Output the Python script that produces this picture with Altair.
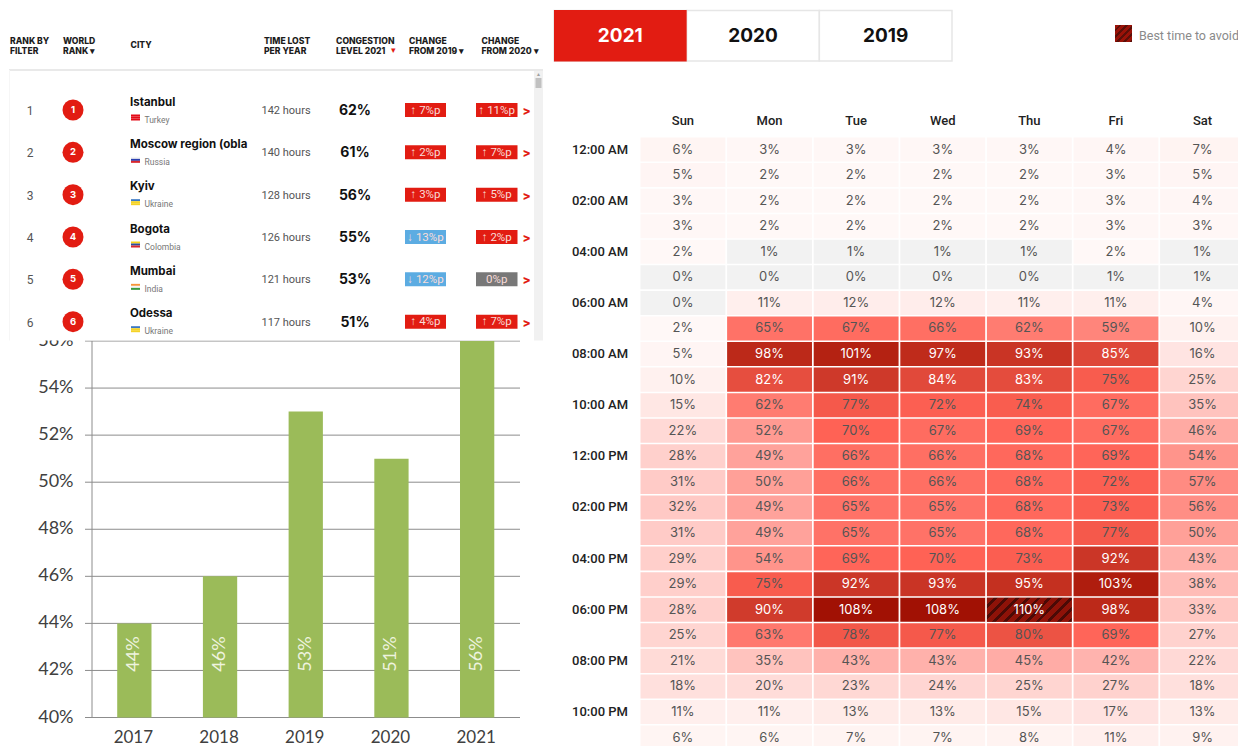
import altair as alt
import pandas as pd

# ---- data ----
years = ["2017", "2018", "2019", "2020", "2021"]
level = [44, 46, 53, 51, 56]
y_ticks = [40, 42, 44, 46, 48, 50, 52, 54, 56]

ranks = [1, 2, 3, 4, 5, 6]
cities = ["Istanbul", "Moscow region (obla", "Kyiv", "Bogota", "Mumbai", "Odessa"]
countries = ["Turkey", "Russia", "Ukraine", "Colombia", "India", "Ukraine"]
hours_lost = ["142 hours", "140 hours", "128 hours", "126 hours", "121 hours", "117 hours"]
congestion = ["62%", "61%", "56%", "55%", "53%", "51%"]
chg19 = ["↑ 7%p", "↑ 2%p", "↑ 3%p", "↓ 13%p", "↓ 12%p", "↑ 4%p"]
chg20 = ["↑ 11%p", "↑ 7%p", "↑ 5%p", "↑ 2%p", "0%p", "↑ 7%p"]
flag_top = ["#e30a17", "#f4f4f4", "#3b78c4", "#f7d116", "#f7953a", "#3b78c4"]
flag_mid = ["#e30a17", "#2a3fb0", "#f5d327", "#2a4fa0", "#f4f4f4", "#f5d327"]
flag_bot = ["#e30a17", "#d8262c", "#f5d327", "#d8262c", "#3a9a40", "#f5d327"]

days = ["Sun", "Mon", "Tue", "Wed", "Thu", "Fri", "Sat"]
hours = ["12:00 AM", "01:00 AM", "02:00 AM", "03:00 AM", "04:00 AM", "05:00 AM",
         "06:00 AM", "07:00 AM", "08:00 AM", "09:00 AM", "10:00 AM", "11:00 AM",
         "12:00 PM", "01:00 PM", "02:00 PM", "03:00 PM", "04:00 PM", "05:00 PM",
         "06:00 PM", "07:00 PM", "08:00 PM", "09:00 PM", "10:00 PM", "11:00 PM"]
heat = [
    [6, 3, 3, 3, 3, 4, 7],
    [5, 2, 2, 2, 2, 3, 5],
    [3, 2, 2, 2, 2, 3, 4],
    [3, 2, 2, 2, 2, 3, 3],
    [2, 1, 1, 1, 1, 2, 1],
    [0, 0, 0, 0, 0, 1, 1],
    [0, 11, 12, 12, 11, 11, 4],
    [2, 65, 67, 66, 62, 59, 10],
    [5, 98, 101, 97, 93, 85, 16],
    [10, 82, 91, 84, 83, 75, 25],
    [15, 62, 77, 72, 74, 67, 35],
    [22, 52, 70, 67, 69, 67, 46],
    [28, 49, 66, 66, 68, 69, 54],
    [31, 50, 66, 66, 68, 72, 57],
    [32, 49, 65, 65, 68, 73, 56],
    [31, 49, 65, 65, 68, 77, 50],
    [29, 54, 69, 70, 73, 92, 43],
    [29, 75, 92, 93, 95, 103, 38],
    [28, 90, 108, 108, 110, 98, 33],
    [25, 63, 78, 77, 80, 69, 27],
    [21, 35, 43, 43, 45, 42, 22],
    [18, 20, 23, 24, 25, 27, 18],
    [11, 11, 13, 13, 15, 17, 13],
    [6, 6, 7, 7, 8, 11, 9],
]
buttons = ["2021", "2020", "2019"]

# ---- layout helpers: page coordinates minus the 8px page margin ----
def px(v):
    return v - 8

def stripes(periods, c1, c2, share, x2, y2):
    stops = []
    for i in range(periods):
        a, m, b = i / periods, (i + share) / periods, (i + 1) / periods
        stops += [alt.GradientStop(color=c1, offset=a), alt.GradientStop(color=c1, offset=m),
                  alt.GradientStop(color=c2, offset=m), alt.GradientStop(color=c2, offset=b)]
    return alt.LinearGradient(gradient="linear", stops=stops, x1=0, y1=0, x2=x2, y2=y2)

BODY = "Roboto"
HEAD = "Inter"
layers = []

# ---- bar chart ----
bar_x = alt.Scale(type="band", domain=years, range=[px(91.5), px(520)], paddingInner=0.6, paddingOuter=0.3)
bar_y = alt.Scale(domain=[40, 56], range=[px(717.5), px(341)])
bars = pd.DataFrame({"year": years, "v": level, "base": [40] * 5, "label": [f"{v}%" for v in level]})
ticks = pd.DataFrame({"v": y_ticks, "label": [f"{v}%" for v in y_ticks]})

layers.append(alt.Chart(ticks).mark_rule(color="#8c8c8c", strokeWidth=1).encode(
    y=alt.Y("v:Q", scale=bar_y, axis=None), x=alt.value(px(85)), x2=alt.value(px(520))))
layers.append(alt.Chart(ticks).mark_text(align="right", baseline="middle", font="Lato", fontSize=18, color="#404040").encode(
    y=alt.Y("v:Q", scale=bar_y, axis=None), x=alt.value(px(73.5)), text="label:N"))
layers.append(alt.Chart(ticks.iloc[[0, -1]]).mark_rule(color="#8c8c8c", strokeWidth=1).encode(
    x=alt.value(px(92)), y=alt.Y("min(v):Q", scale=bar_y, axis=None), y2="max(v):Q"))
layers.append(alt.Chart(bars).mark_bar(color="#9bbb59").encode(
    x=alt.X("year:N", scale=bar_x, axis=None), y=alt.Y("v:Q", scale=bar_y, axis=None), y2="base:Q"))
layers.append(alt.Chart(bars).mark_text(angle=270, font="Lato", fontSize=18, color="#eef3df", baseline="middle", align="center").encode(
    x=alt.X("year:N", scale=bar_x, axis=None), y=alt.value(px(654)), text="label:N"))
layers.append(alt.Chart(bars).mark_text(font="Lato", fontSize=17, color="#404040", baseline="middle", dx=-1).encode(
    x=alt.X("year:N", scale=bar_x, axis=None), y=alt.value(px(738)), text="year:N"))

# ---- table panel (covers the top of the bar chart) ----
panel = pd.DataFrame({"p": ["panel"]})
layers.append(alt.Chart(panel).mark_rect(color="white").encode(
    x=alt.value(px(9)), x2=alt.value(px(543)), y=alt.value(px(30)), y2=alt.value(px(340.5))))
layers.append(alt.Chart(panel).mark_rect(color="#f1f1f1").encode(
    x=alt.value(px(534)), x2=alt.value(px(543)), y=alt.value(px(70)), y2=alt.value(px(340.5))))
layers.append(alt.Chart(panel).mark_rect(color="#c1c1c1").encode(
    x=alt.value(px(535.5)), x2=alt.value(px(541.5)), y=alt.value(px(78)), y2=alt.value(px(88))))
layers.append(alt.Chart(panel).mark_rule(color="#e9e9e9", strokeWidth=2).encode(
    x=alt.value(px(9)), x2=alt.value(px(543)), y=alt.value(px(70))))
layers.append(alt.Chart(panel).mark_rule(color="#f6f6f6", strokeWidth=1).encode(
    x=alt.value(px(9.5)), y=alt.value(px(70)), y2=alt.value(px(340.5))))
layers.append(alt.Chart(pd.DataFrame({"t": ["▲"]})).mark_text(fontSize=5, color="#a0a0a0", baseline="middle").encode(
    x=alt.value(px(538.5)), y=alt.value(px(74)), text="t:N"))

head = pd.DataFrame({
    "t": ["RANK BY\nFILTER", "WORLD\nRANK ▾", "TIME LOST\nPER YEAR", "CONGESTION\nLEVEL 2021",
          "CHANGE\nFROM 2019 ▾", "CHANGE\nFROM 2020 ▾"],
    "x": [px(v) for v in [10, 63, 264, 336, 409, 481.5]],
})
layers.append(alt.Chart(head).mark_text(font=HEAD, fontWeight=800, fontSize=8.6, color="#1c1c1c", align="left",
                                        baseline="middle", lineBreak="\n", lineHeight=10).encode(
    x=alt.X("x:Q", scale=None, axis=None), y=alt.value(px(41)), text="t:N"))
layers.append(alt.Chart(pd.DataFrame({"t": ["CITY"]})).mark_text(font=HEAD, fontWeight=800, fontSize=8.6, color="#1c1c1c", align="left", baseline="middle").encode(
    x=alt.value(px(130.5)), y=alt.value(px(45)), text="t:N"))
layers.append(alt.Chart(pd.DataFrame({"t": ["▾"]})).mark_text(fontSize=9, color="#e21c12", baseline="middle").encode(
    x=alt.value(px(393.5)), y=alt.value(px(50)), text="t:N"))

row_y = alt.Scale(domain=[1, 6], range=[px(110), px(321.7)])
ys = alt.Y("row:Q", scale=row_y, axis=None)
tbl = pd.DataFrame({
    "row": ranks, "city": cities, "country": countries, "hrs": hours_lost, "cong": congestion,
    "c19": chg19, "c20": chg20, "top": flag_top, "mid": flag_mid, "bot": flag_bot, "chev": [">"] * 6,
})
tbl["col19"] = ["#5cace2" if s.startswith("↓") else "#e21c12" for s in chg19]
tbl["col20"] = ["#787878" if s == "0%p" else "#e21c12" for s in chg20]
T = alt.Chart(tbl)
layers.append(T.mark_text(font=BODY, fontSize=12, color="#555555", baseline="middle", dy=1).encode(
    x=alt.value(px(30)), y=ys, text="row:Q"))
layers.append(T.mark_circle(color="#e21c12", opacity=1, size=441).encode(x=alt.value(px(73)), y=ys))
layers.append(T.mark_text(font=HEAD, fontWeight=700, fontSize=9.5, color="white", baseline="middle").encode(
    x=alt.value(px(73)), y=ys, text="row:Q"))
layers.append(T.mark_text(font=HEAD, fontWeight=700, fontSize=11.5, color="#111111", align="left", baseline="middle", yOffset=-7.5).encode(
    x=alt.value(px(130)), y=ys, text="city:N"))
for field, off in [("top", 5.5), ("mid", 7.5), ("bot", 9.5)]:
    layers.append(T.mark_rect(height=2, yOffset=off).encode(
        x=alt.value(px(131)), x2=alt.value(px(140)), y=ys, color=alt.Color(f"{field}:N", scale=None, legend=None)))
layers.append(T.mark_text(font=BODY, fontSize=8.5, color="#777777", align="left", baseline="middle", yOffset=9.5).encode(
    x=alt.value(px(144.5)), y=ys, text="country:N"))
layers.append(T.mark_text(font=BODY, fontSize=11, color="#555555", align="left", baseline="middle", dy=1).encode(
    x=alt.value(px(261.5)), y=ys, text="hrs:N"))
layers.append(T.mark_text(font=HEAD, fontWeight=700, fontSize=14, color="#111111", baseline="middle", dy=1).encode(
    x=alt.value(px(355)), y=ys, text="cong:N"))
for fld, colf, a, b in [("c19", "col19", 405, 446), ("c20", "col20", 476, 517.5)]:
    layers.append(T.mark_rect(height=14).encode(
        x=alt.value(px(a)), x2=alt.value(px(b)), y=ys, color=alt.Color(f"{colf}:N", scale=None, legend=None)))
    layers.append(T.mark_text(font=BODY, fontSize=11.5, color="#f8dcd8", baseline="middle", dy=0.5).encode(
        x=alt.value(px((a + b) / 2)), y=ys, text=f"{fld}:N"))
layers.append(T.mark_text(font=HEAD, fontWeight=800, fontSize=12, color="#e21c12", baseline="middle", yOffset=1).encode(
    x=alt.value(px(526.5)), y=ys, text="chev:N"))

# ---- year buttons ----
btn_x = alt.Scale(type="band", domain=buttons, range=[px(554), px(952)], paddingInner=0, paddingOuter=0)
btn = pd.DataFrame({"b": buttons, "fill": ["#e21c12", "#ffffff", "#ffffff"], "fg": ["#ffffff", "#111111", "#111111"]})
layers.append(alt.Chart(btn).mark_bar(stroke="#e6e6e6", strokeWidth=1.5).encode(
    x=alt.X("b:N", scale=btn_x, axis=None), y=alt.value(px(10.5)), y2=alt.value(px(61)),
    color=alt.Color("fill:N", scale=None, legend=None)))
layers.append(alt.Chart(btn.iloc[:1]).mark_bar(color="#e21c12").encode(
    x=alt.X("b:N", scale=btn_x, axis=None), y=alt.value(px(10)), y2=alt.value(px(61.5))))
layers.append(alt.Chart(btn).mark_text(font=HEAD, fontWeight=700, fontSize=19, baseline="middle").encode(
    x=alt.X("b:N", scale=btn_x, axis=None), y=alt.value(px(36)), text="b:N",
    color=alt.Color("fg:N", scale=None, legend=None)))

# ---- legend ----
layers.append(alt.Chart(panel).mark_rect(fill=stripes(5, "#9a1208", "#5c0f08", 0.6, 1, 1)).encode(
    x=alt.value(px(1115)), x2=alt.value(px(1132)), y=alt.value(px(25)), y2=alt.value(px(42))))
layers.append(alt.Chart(pd.DataFrame({"t": ["Best time to avoid"]})).mark_text(font=BODY, fontSize=12.5, color="#8a8a8a", align="left", baseline="middle").encode(
    x=alt.value(px(1139)), y=alt.value(px(35.5)), text="t:N"))

# ---- heatmap ----
heat_x = alt.Scale(type="band", domain=days, range=[px(640.5), px(1245)], paddingInner=0.02, paddingOuter=0)
heat_y = alt.Scale(type="band", domain=hours, range=[px(137.5), px(749.6)], paddingInner=0.06, paddingOuter=0)
cells = pd.DataFrame([
    {"hour": h, "day": d, "v": heat[i][j], "label": f"{heat[i][j]}%"}
    for i, h in enumerate(hours) for j, d in enumerate(days)
])
cells["fg"] = ["#ffffff" if v > 80 else "#555555" for v in cells["v"]]
col_dom = [0, 1, 2, 10, 20, 30, 40, 50, 60, 70, 77, 80, 90, 100, 110]
col_rng = ["#f2f2f2", "#f2f2f2", "#fff8f7", "#fff1ef", "#ffdcd9", "#ffcdc9", "#ffb8b3", "#ffa098",
           "#ff8278", "#ff6255", "#f5594b", "#ec5344", "#d03b2c", "#b72414", "#9c0c00"]
hx = alt.X("day:N", scale=heat_x, axis=None)
hy = alt.Y("hour:N", scale=heat_y, axis=None)
layers.append(alt.Chart(cells).mark_rect().encode(
    x=hx, y=hy, color=alt.Color("v:Q", scale=alt.Scale(domain=col_dom, range=col_rng, interpolate="rgb"), legend=None)))
layers.append(alt.Chart(cells[cells["v"] == cells["v"].max()]).mark_rect(fill=stripes(10, "#8e1208", "#4a0a06", 0.65, 1.186, 0.33)).encode(
    x=hx, y=hy))
layers.append(alt.Chart(cells).mark_text(font=HEAD, fontSize=13, baseline="middle").encode(
    x=hx, y=hy, text="label:N", color=alt.Color("fg:N", scale=None, legend=None)))
layers.append(alt.Chart(pd.DataFrame({"day": days})).mark_text(font=BODY, fontWeight=500, fontSize=13, color="#222222", baseline="middle").encode(
    x=hx, y=alt.value(px(121)), text="day:N"))
layers.append(alt.Chart(pd.DataFrame({"hour": hours[::2]})).mark_text(font=BODY, fontWeight=500, fontSize=13, color="#222222", baseline="middle").encode(
    x=alt.value(px(600)), y=hy, text="hour:N"))

chart = (
    alt.layer(*layers)
    .resolve_scale(x="independent", y="independent", color="independent")
    .properties(width=1230, height=738, padding=0, autosize=alt.AutoSizeParams(type="none"))
    .configure_view(stroke=None)
)
chart.save("out.html", embed_options={"renderer": "svg", "actions": False})
